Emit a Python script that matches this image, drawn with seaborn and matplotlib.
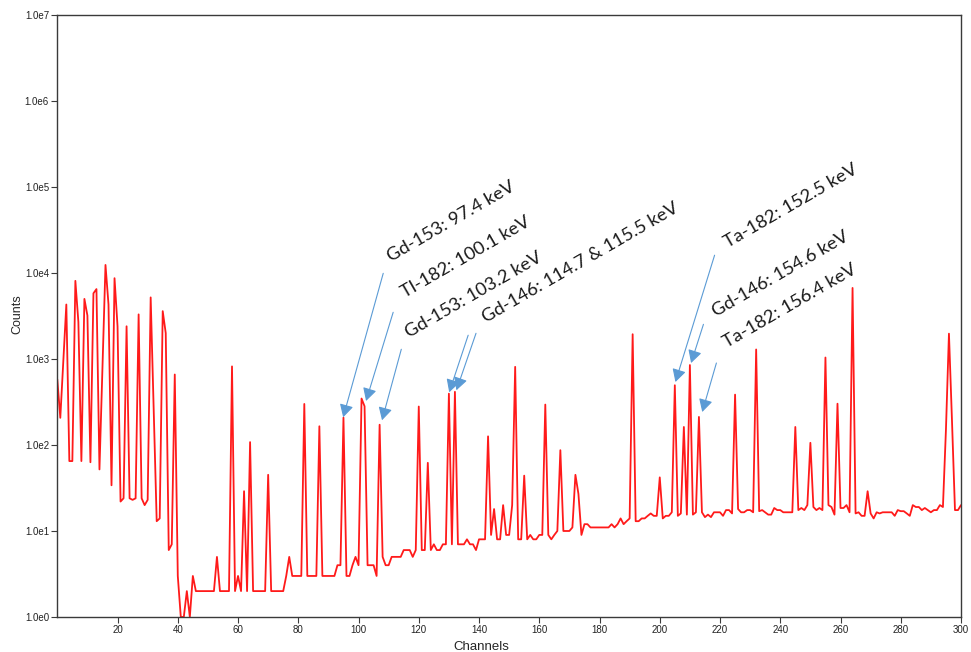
"""
Gamma spectrum with labelled peaks (log counts vs channel)
"""

import math
import matplotlib
matplotlib.use('Agg')
import matplotlib.pyplot as plt
from matplotlib.ticker import FixedLocator, FuncFormatter, NullLocator
import seaborn as sns
import pandas as pd

# ================================= #
# DATA
# ================================= #

# channels 0-64
counts_low = [580, 207, 950, 4300, 65, 65, 8100, 2700, 65, 5000,
              3200, 63, 5800, 6500, 52, 800, 12400, 4300, 34, 8700,
              2400, 22, 24, 2400, 24, 23, 24, 3300, 24, 20,
              23, 5200, 260, 13, 14, 3600, 2000, 6, 7, 660,
              3, 1, 1, 2, 1, 3, 2, 2, 2, 2,
              2, 2, 2, 5, 2, 2, 2, 2, 820, 2,
              3, 2, 29, 2, 108]
# channels 65-140
counts_mid = [2, 2, 2, 2, 2, 45, 2, 2, 2, 2,
              2, 3, 5, 3, 3, 3, 3, 300, 3, 3,
              3, 3, 165, 3, 3, 3, 3, 3, 4, 4,
              208, 3, 3, 4, 5, 4, 347, 282, 4, 4,
              4, 3, 172, 5, 4, 4, 5, 5, 5, 5,
              6, 6, 6, 5, 6, 280, 6, 6, 62, 6,
              7, 6, 6, 7, 7, 395, 7, 415, 7, 7,
              7, 8, 7, 7, 6, 8]
# channels 141-220
counts_high = [8, 8, 126, 9, 18, 8, 8, 20, 9, 9,
               20, 810, 8, 8, 44, 8, 9, 8, 8, 9,
               9, 295, 9, 8, 9, 10, 87, 10, 10, 10,
               11, 45, 27, 9, 12, 12, 11, 11, 11, 11,
               11, 11, 11, 12, 11, 12, 14, 12, 13, 14,
               1940, 13, 13, 14, 14, 15, 16, 15, 15, 42,
               14, 15, 15, 16.5, 495, 15, 16, 162, 15.5, 850,
               15.5, 16.5, 212, 16.5, 14.5, 15.5, 14.5, 16.5, 16.5, 16.5]
# channels 221-300
counts_tail = [15, 17.5, 17.5, 16, 385, 18, 16.5, 16.5, 17.5, 17.5,
               16.5, 1290, 17, 17.5, 16.5, 15.5, 15.5, 18.5, 17.5, 17.5,
               16.5, 16.5, 16.5, 16.5, 162, 17.5, 18.5, 17.5, 20, 106,
               19, 17.5, 18.5, 17.5, 1040, 20, 19, 15.5, 302, 18.5,
               18.5, 20, 16.5, 6700, 16, 16.5, 15, 15, 29, 16,
               14, 16.5, 16, 16.5, 16.5, 16.5, 16.5, 15, 17.5, 17,
               17, 16, 15, 20, 19, 19, 17.5, 18.5, 17.5, 16.5,
               17.5, 17.5, 20, 19, 150, 1970, 195, 17.5, 17.5, 20]

counts = counts_low + counts_mid + counts_high + counts_tail
channels = list(range(len(counts)))
spec = pd.DataFrame({'channel': channels, 'counts': counts})

# peak labels: text anchor, arrow start and arrow tip (data coordinates)
peak_labels = ['Gd-153: 97.4 keV', 'Tl-182: 100.1 keV', 'Gd-153: 103.2 keV',
               'Gd-146: 114.7 & 115.5 keV', 'Ta-182: 152.5 keV',
               'Gd-146: 154.6 keV', 'Ta-182: 156.4 keV']
label_pos = [(110.7, 13300), (115.4, 5080), (116.8, 1740), (142.4, 2600),
             (222.6, 19400), (218.8, 3080), (222.2, 1331)]
arrow_from = [(108.2, 9910), (111.5, 3490), (114.2, 1297), (136.4, 1890),
              (139.0, 1990), (218.2, 16100), (214.5, 2530), (218.8, 898)]
arrow_to = [(94.9, 210), (102.5, 325), (107.8, 194), (130.1, 410),
            (132.5, 433), (205.2, 540), (210.4, 898), (214.1, 242)]

xticks = list(range(20, 301, 20))
yticks = [1e0, 1e1, 1e2, 1e3, 1e4, 1e5, 1e6, 1e7]

# ================================= #
# PLOT
# ================================= #

sns.set_style('white')
plt.rcParams['font.family'] = ['Liberation Sans', 'DejaVu Sans']

fig = plt.figure(figsize=(9.71, 6.52), dpi=100)
ax = fig.add_axes([0.059, 0.0537, 0.9307, 0.9233])

sns.lineplot(data=spec, x='channel', y='counts', color='#ff1a1a',
             linewidth=1.3, estimator=None, ax=ax)

ax.set_yscale('log')
ax.set_xlim(0, 300)
ax.set_ylim(1, 1e7)
ax.xaxis.set_major_locator(FixedLocator(xticks))
ax.yaxis.set_major_locator(FixedLocator(yticks))
ax.yaxis.set_minor_locator(NullLocator())
ax.yaxis.set_major_formatter(FuncFormatter(lambda v, pos: '1.0e%d' % round(math.log10(v))))

for side in ['left', 'right', 'top', 'bottom']:
    ax.spines[side].set_color('#3a3a3a')
    ax.spines[side].set_linewidth(1.0)
ax.tick_params(axis='both', direction='out', length=4, width=0.8,
               color='#3a3a3a', labelsize=7, labelcolor='#222222', pad=2)
ax.tick_params(axis='x', bottom=True)
ax.tick_params(axis='y', left=True)

ax.set_xlabel('Channels', fontsize=9.5)
ax.set_ylabel('Counts', fontsize=9)
ax.xaxis.set_label_coords(0.469, -0.040)
ax.yaxis.set_label_coords(-0.037, 0.503)

# arrows
for (x0, y0), (x1, y1) in zip(arrow_from, arrow_to):
    ax.annotate('', xy=(x1, y1), xytext=(x0, y0),
                arrowprops=dict(arrowstyle='-|>,head_length=0.55,head_width=0.3',
                                color='#5b9bd5', lw=0.8, mutation_scale=14,
                                shrinkA=0, shrinkB=0))

# rotated labels
for txt, (tx, ty) in zip(peak_labels, label_pos):
    ax.text(tx, ty, txt, rotation=30, rotation_mode='anchor', ha='left',
            va='baseline', fontsize=13.2, color='#1a1a1a', family=['Lato', 'DejaVu Sans'])

fig.savefig('out.png', dpi=100)
plt.close('all')
